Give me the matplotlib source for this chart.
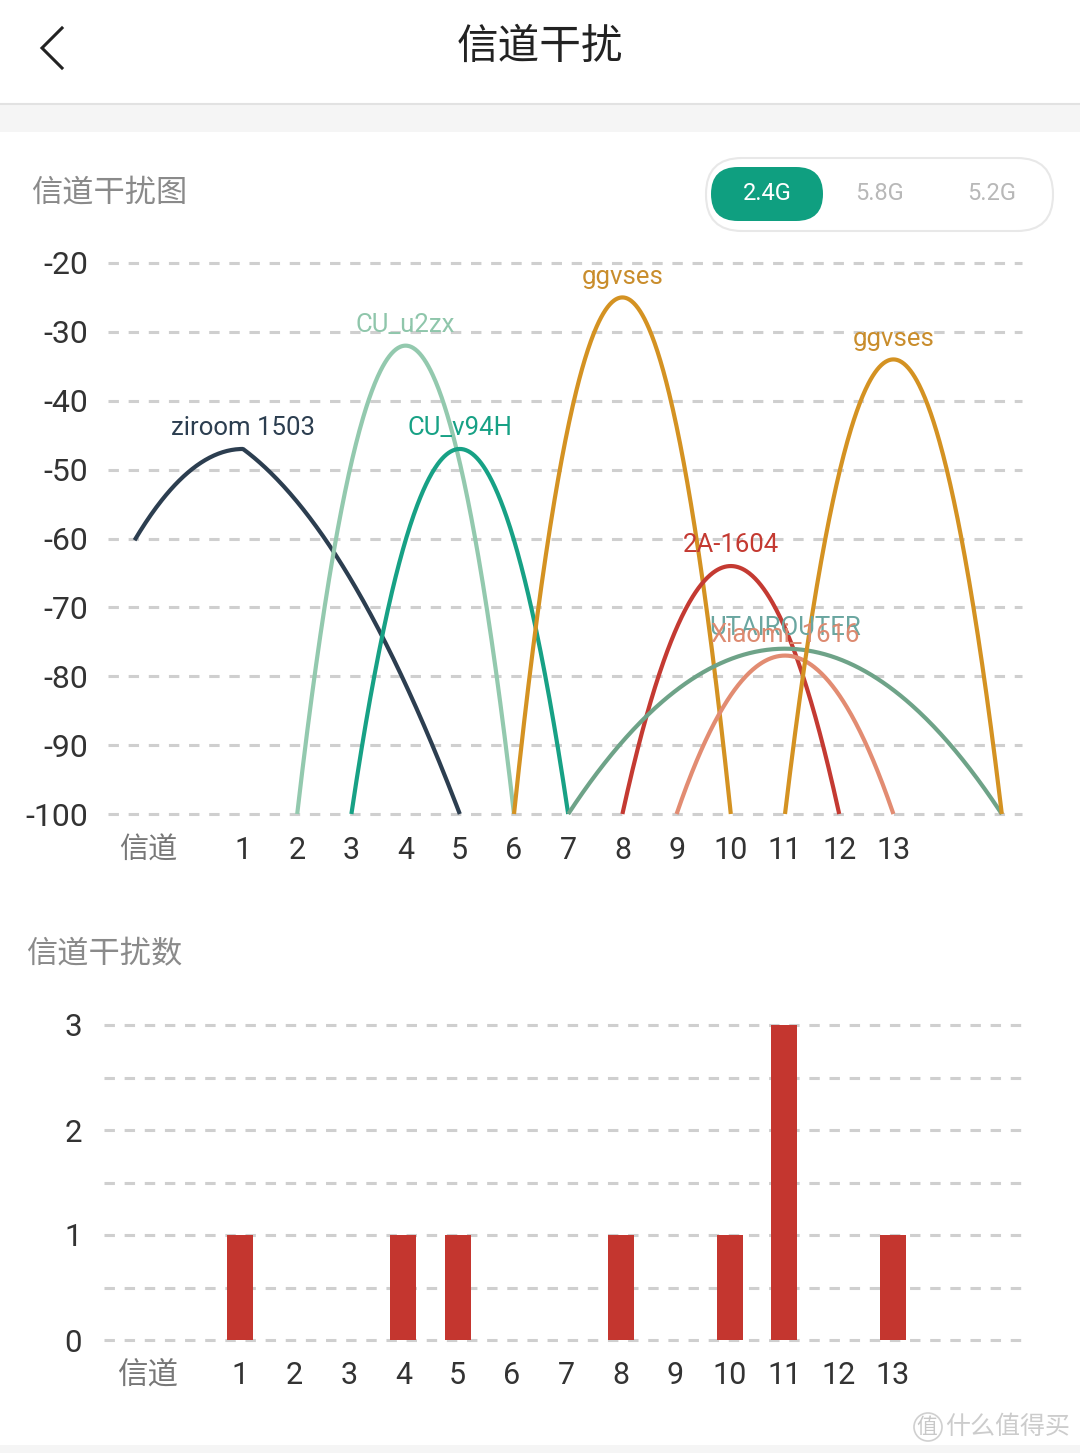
import numpy as np
import matplotlib
matplotlib.use('Agg')
import matplotlib.pyplot as plt
from matplotlib.patches import FancyBboxPatch, Rectangle, Circle
from matplotlib.lines import Line2D

plt.rcParams['font.family'] = ['Roboto', 'Noto Sans CJK SC', 'DejaVu Sans']
plt.rcParams['lines.scale_dashes'] = False

# ---------------- data ----------------
channels = list(range(1, 14))
ap_names = ['ziroom 1503', 'CU_u2zx', 'CU_v94H', 'ggvses', '2A-1604',
            'UTAIROUTER', 'Xiaomi_1616', 'ggvses']
ap_center = [1, 4, 5, 8, 10, 11, 11, 13]
ap_peak = [-47, -32, -47, -25, -64, -76, -77, -34]
ap_halfwidth = [4, 2, 2, 2, 2, 4, 2, 2]
# share of linear fall-off on the right flank (gives ziroom its pointed top)
ap_right_sharpness = [0.44, 0, 0, 0, 0, 0, 0, 0]
ap_colors = ['#2c3e50', '#93c9ae', '#17a185', '#d49222', '#c43a32',
             '#6ea388', '#e28c72', '#d49222']
label_colors = ['#2c3e50', '#8fc6ab', '#17a185', '#c98d2c', '#c43a32',
                '#6aa6a0', '#dd8a70', '#c98d2c']
rssi_ticks = [-20, -30, -40, -50, -60, -70, -80, -90, -100]
interference_counts = [1, 0, 0, 1, 1, 0, 0, 1, 0, 1, 3, 0, 1]
count_ticks = [0, 1, 2, 3]
band_options = ['2.4G', '5.8G', '5.2G']

W, H = 1080, 1453
fig = plt.figure(figsize=(W / 100, H / 100), dpi=100)
fig.patch.set_facecolor('white')

CJK = ['Noto Sans CJK SC', 'DejaVu Sans']

# ---------------- background / UI ----------------
bg = fig.add_axes([0, 0, 1, 1])
bg.set_xlim(0, W)
bg.set_ylim(H, 0)
bg.axis('off')
bg.set_zorder(0)

bg.add_patch(Rectangle((0, 104), W, 28, color='#f5f5f5', lw=0))
bg.add_line(Line2D([0, W], [104, 104], color='#e2e2e2', lw=1.5))
bg.add_patch(Rectangle((0, 1445), W, 8, color='#f5f5f5', lw=0))
# back arrow
bg.add_line(Line2D([62, 42, 62], [28, 48, 68], color='#222222', lw=2.2,
                   solid_joinstyle='miter'))
bg.text(540, 47, '信道干扰', ha='center', va='center', fontsize=30,
        color='#222222', family=CJK)

bg.text(31, 193, '信道干扰图', ha='left', va='center', fontsize=22.5,
        color='#8a8a8a', family=CJK)
bg.text(26, 954, '信道干扰数', ha='left', va='center', fontsize=22.5,
        color='#8a8a8a', family=CJK)

# toggle
bg.add_patch(FancyBboxPatch((706, 158), 347, 73,
                            boxstyle='round,pad=0,rounding_size=36',
                            fc='white', ec='#e8e8e8', lw=1.5))
bg.add_patch(FancyBboxPatch((711, 167), 112, 54,
                            boxstyle='round,pad=0,rounding_size=27',
                            fc='#0f9f80', ec='none'))
for i, name in enumerate(band_options):
    bg.text(767 + i * 112.5, 194, name, ha='center', va='center',
            fontsize=17, color='white' if i == 0 else '#b8b8b8',
            family=['Roboto', 'DejaVu Sans'])

# watermark
bg.add_patch(Circle((928, 1427), 14, fill=False, ec='#d0d0d0', lw=1.2))
bg.text(927, 1427, '值', ha='center', va='center', fontsize=15,
        color='#c8c8c8', family=CJK)
bg.text(1070, 1427, '什么值得买', ha='right', va='center', fontsize=18,
        color='#cccccc', family=CJK)

GRID = dict(color='#cfcfcf', lw=2.2, linestyle=(0, (7.5, 7.0)))

# ---------------- top chart ----------------
ax = fig.add_axes([108 / W, (H - 814) / H, 914 / W, 551 / H])
ax.set_zorder(1)
ax.patch.set_visible(False)
px = 54.2
ax.set_xlim(1 + (108 - 243) / px, 1 + (1022 - 243) / px)
ax.set_ylim(-100, -20)
for s in ax.spines.values():
    s.set_visible(False)
for v in rssi_ticks:
    ax.axhline(v, clip_on=False, zorder=0, **GRID)

draw_start = -1
for name, c, pk, hw, sharp, col, lcol in zip(ap_names, ap_center, ap_peak,
                                             ap_halfwidth, ap_right_sharpness,
                                             ap_colors, label_colors):
    xs = np.linspace(max(c - hw, draw_start), c + hw, 300)
    t = np.abs(xs - c) / hw
    shape = np.where(xs > c, sharp * t + (1 - sharp) * t ** 2, t ** 2)
    ys = pk - (pk + 100) * shape
    ax.plot(xs, ys, color=col, lw=3.0, clip_on=False, zorder=3,
            solid_capstyle='butt', solid_joinstyle='miter')
    ax.text(c, pk + 3, name, ha='center', va='center', fontsize=18.5,
            color=lcol, zorder=4, clip_on=False)

xlabel_pos_top = 1 + (148 - 243) / px
ax.set_xticks([xlabel_pos_top] + channels)
ax.set_xticklabels(['信道'] + [str(c) for c in channels])
ax.set_yticks(rssi_ticks)
ax.set_yticklabels([str(v) for v in rssi_ticks])
ax.tick_params(axis='y', length=0, pad=14, labelsize=23, labelcolor='#333333')
ax.tick_params(axis='x', length=0, pad=16, labelsize=22, labelcolor='#333333')
ax.get_xticklabels()[0].set_color('#777777')
ax.get_xticklabels()[0].set_fontsize(21)

# ---------------- bottom chart ----------------
ax2 = fig.add_axes([104 / W, (H - 1340) / H, 926 / W, 315 / H])
ax2.set_zorder(1)
ax2.patch.set_visible(False)
px2 = 54.42
ax2.set_xlim(1 + (104 - 240) / px2, 1 + (1030 - 240) / px2)
ax2.set_ylim(0, 3)
for s in ax2.spines.values():
    s.set_visible(False)
for v in np.arange(0, 3.01, 0.5):
    ax2.axhline(v, clip_on=False, zorder=0, **GRID)
ax2.bar(channels, interference_counts, width=0.48, color='#c4362f', zorder=3)
xlabel_pos_bot = 1 + (148 - 240) / px2
ax2.set_xticks([xlabel_pos_bot] + channels)
ax2.set_xticklabels(['信道'] + [str(c) for c in channels])
ax2.set_yticks(count_ticks)
ax2.set_yticklabels([str(v) for v in count_ticks])
ax2.tick_params(axis='y', length=0, pad=16, labelsize=22.5, labelcolor='#333333')
ax2.tick_params(axis='x', length=0, pad=15, labelsize=22, labelcolor='#333333')
ax2.get_xticklabels()[0].set_color('#777777')

fig.savefig('out.png', dpi=100)
